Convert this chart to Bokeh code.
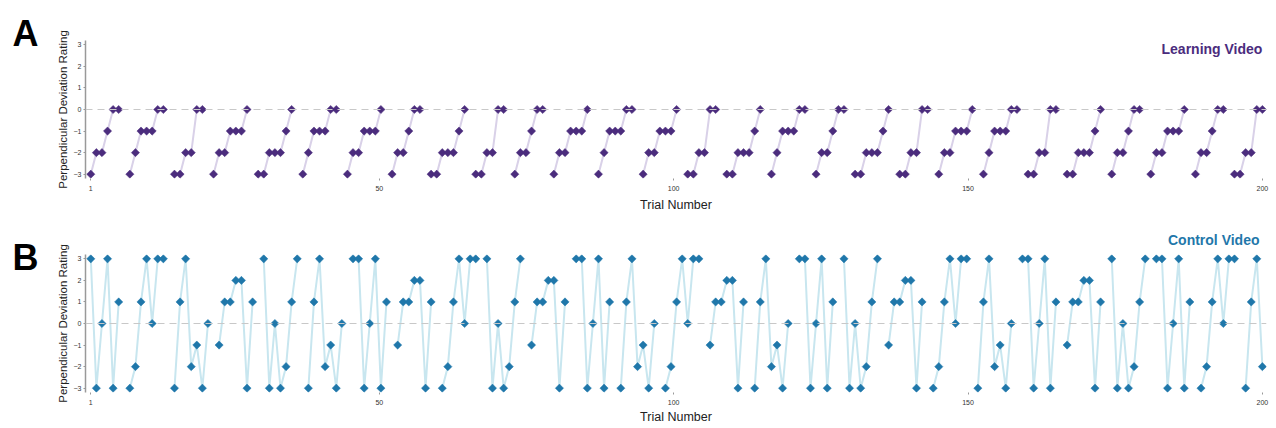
import numpy as np
from bokeh.plotting import figure
from bokeh.models import Label, Span, FixedTicker, Range1d, Title
from bokeh.layouts import column, row
from bokeh.core.properties import value
from bokeh.embed import file_html
from bokeh.resources import INLINE

# Ratings per block of consecutive trials (blocks are separated by one skipped trial)
learning_blocks = [
    [-3, -2, -2, -1, 0, 0], [-3, -2, -1, -1, -1, 0, 0], [-3, -3, -2, -2, 0, 0],
    [-3, -2, -2, -1, -1, -1, 0], [-3, -3, -2, -2, -2, -1, 0], [-3, -2, -1, -1, -1, 0, 0],
    [-3, -2, -2, -1, -1, -1, 0], [-3, -2, -2, -1, 0, 0], [-3, -3, -2, -2, -2, -1, 0],
    [-3, -3, -2, -2, 0, 0], [-3, -2, -2, -1, 0, 0], [-3, -2, -2, -1, -1, -1, 0],
    [-3, -2, -1, -1, -1, 0, 0], [-3, -2, -2, -1, -1, -1, 0], [-3, -3, -2, -2, 0, 0],
    [-3, -3, -2, -2, -2, -1, 0], [-3, -2, -1, -1, -1, 0, 0], [-3, -2, -2, -1, 0, 0],
    [-3, -3, -2, -2, -2, -1, 0], [-3, -3, -2, -2, 0, 0], [-3, -2, -2, -1, -1, -1, 0],
    [-3, -2, -1, -1, -1, 0, 0], [-3, -3, -2, -2, 0, 0], [-3, -3, -2, -2, -2, -1, 0],
    [-3, -2, -2, -1, 0, 0], [-3, -2, -2, -1, -1, -1, 0], [-3, -2, -2, -1, 0, 0],
    [-3, -3, -2, -2, 0, 0],
]
control_blocks = [
    [3, -3, 0, 3, -3, 1], [-3, -2, 1, 3, 0, 3, 3], [-3, 1, 3, -2, -1, -3, 0],
    [-1, 1, 1, 2, 2, -3, 1], [3, -3, 0, -3, -2, 1, 3], [-3, 1, 3, -2, -1, -3, 0],
    [3, 3, -3, 0, 3, -3, 1], [-1, 1, 1, 2, 2, -3, 1], [-3, -2, 1, 3, 0, 3, 3],
    [3, -3, 0, -3, -2, 1, 3], [-1, 1, 1, 2, 2, -3, 1], [3, 3, -3, 0, 3, -3, 1],
    [-3, 1, 3, -2, -1, -3, 0], [-3, -2, 1, 3, 0, 3, 3], [-1, 1, 1, 2, 2, -3, 1],
    [-3, 1, 3, -2, -1, -3, 0], [3, 3, -3, 0, 3, -3, 1], [3, -3, 0, -3, -2, 1, 3],
    [-1, 1, 1, 2, 2, -3, 1], [-3, -2, 1, 3, 0, 3, 3], [-3, 1, 3, -2, -1, -3, 0],
    [3, 3, -3, 0, 3, -3, 1], [-1, 1, 1, 2, 2, -3, 1], [3, -3, 0, -3, -2, 1, 3],
    [3, 3, -3, 0, 3, -3, 1], [-3, -2, 1, 3, 0, 3, 3], [-3, 1, 3, -2],
]
x_ticks = [1, 50, 100, 150, 200]
y_ticks = [-3, -2, -1, 0, 1, 2, 3]
panel_letters = ["A", "B"]
panel_titles = ["Learning Video", "Control Video"]


def with_gaps(blocks):
    out = []
    for i, b in enumerate(blocks):
        if i:
            out.append(np.nan)
        out.extend(b)
    return np.array(out, dtype=float)


learning = with_gaps(learning_blocks)
control = with_gaps(control_blocks)
trial = np.linspace(1, 200, len(learning))

FONT = "Liberation Sans"


def panel(values, mcolor, lcolor, height, top, bottom, tstand, lstand):
    p = figure(width=1225, height=height, x_range=Range1d(0.1, 200.7), y_range=Range1d(-3.2, 3.2),
               output_backend="svg", toolbar_location=None,
               min_border_left=40, min_border_right=4, min_border_top=top, min_border_bottom=bottom)
    p.outline_line_color = None
    p.grid.visible = False

    p.add_layout(Span(location=0, dimension="width", line_color="#c8c8c8",
                      line_width=1, line_dash="7 5"))
    p.line(trial, values, line_color=lcolor, line_width=2)
    p.scatter(trial, values, marker="square", angle=np.pi / 4, size=5.8,
              fill_color=mcolor, line_color=mcolor, line_width=0.5)

    xa = p.xaxis[0]
    xa.ticker = FixedTicker(ticks=x_ticks)
    xa.axis_label = "Trial Number"
    xa.axis_label_text_font = FONT
    xa.axis_label_text_font_size = "12.5px"
    xa.axis_label_text_font_style = "normal"
    xa.axis_label_text_color = "#222222"
    xa.axis_label_standoff = lstand
    xa.major_label_text_font = FONT
    xa.major_label_text_font_size = "7px"
    xa.major_label_text_color = "#333333"
    xa.major_label_standoff = tstand
    xa.axis_line_color = None
    xa.major_tick_line_color = "#999999"
    xa.major_tick_out = 2
    xa.major_tick_in = 0
    xa.minor_tick_line_color = None

    ya = p.yaxis[0]
    ya.ticker = FixedTicker(ticks=y_ticks)
    ya.axis_label = "Perpendicular Deviation Rating"
    ya.axis_label_text_font = FONT
    ya.axis_label_text_font_size = "11.5px"
    ya.axis_label_text_font_style = "normal"
    ya.axis_label_text_color = "#222222"
    ya.axis_label_standoff = 2
    ya.major_label_text_font = FONT
    ya.major_label_text_font_size = "7px"
    ya.major_label_text_color = "#333333"
    ya.major_label_standoff = 2
    ya.axis_line_color = "#999999"
    ya.axis_line_width = 1.5
    ya.major_tick_line_color = "#999999"
    ya.major_tick_out = 2
    ya.major_tick_in = 0
    ya.minor_tick_line_color = None
    return p


A_COLOR, B_COLOR = "#4b2c7d", "#1f77aa"

pa = panel(learning, A_COLOR, "#d9d1e8", 214, 40, 36, 5, 4)
pa.add_layout(Label(x=200, y=2.8, text=panel_titles[0], text_align="right", text_baseline="middle",
                    text_font=FONT, text_font_style="bold", text_font_size="14px",
                    text_color=A_COLOR))

pb = panel(control, "#1f77aa", "#c8e6ef", 212, 40, 34, 5, 2)
pb.add_layout(Title(text=panel_titles[1], align="right", offset=7, standoff=13,
                    text_font=FONT, text_font_style="bold", text_font_size="14px",
                    text_color=B_COLOR), "above")

# narrow strip holding the panel letters
pl = figure(width=45, height=426, x_range=Range1d(0, 45), y_range=Range1d(426, 0),
            x_axis_type=None, y_axis_type=None, output_backend="svg", toolbar_location=None,
            min_border=0)
pl.outline_line_color = None
pl.grid.visible = False
pl.text(x=[25, 25], y=[33, 257], text=panel_letters, text_align="center",
        text_baseline="alphabetic", text_font=value(FONT), text_font_style="bold",
        text_font_size="36px", text_color="black")

layout = row(pl, column(pa, pb, spacing=0), spacing=0)
open("out.html", "w").write(file_html(layout, INLINE))
